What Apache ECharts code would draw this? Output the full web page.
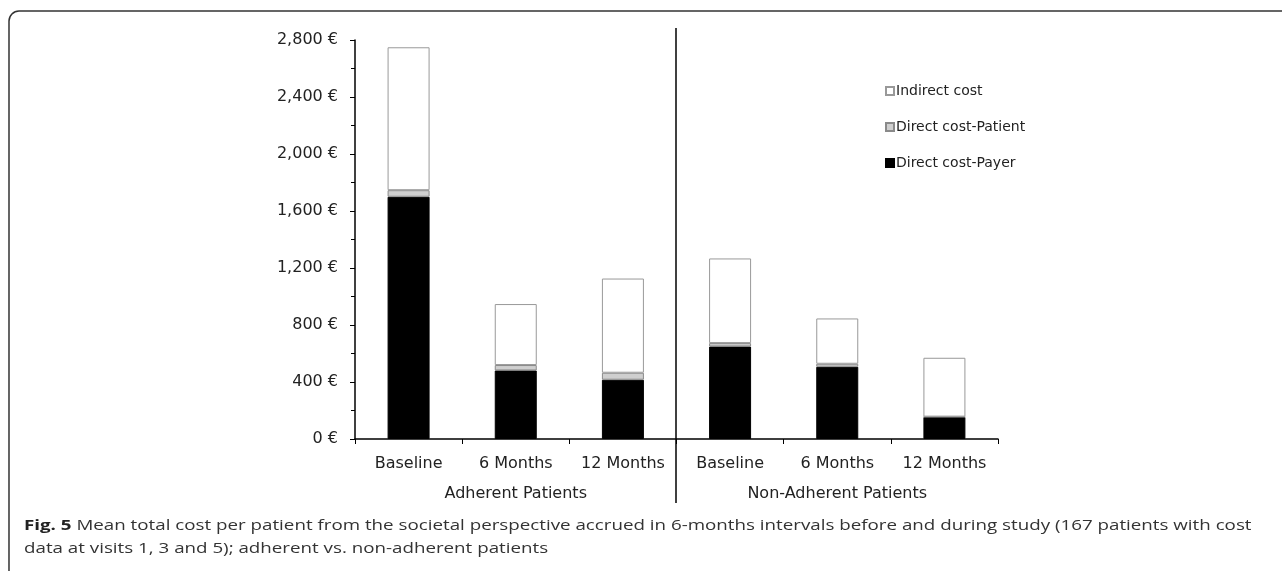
<!DOCTYPE html>
<html>
<head>
<meta charset="utf-8">
<script src="https://cdn.jsdelivr.net/npm/echarts@6/dist/echarts.min.js"></script>
<style>
  html, body { margin: 0; padding: 0; background: #fff; }
  #main { width: 1282px; height: 571px; }
</style>
</head>
<body>
<div id="main"></div>
<script>
// data (EUR per patient)
var categories = ['Baseline', '6 Months', '12 Months', 'Baseline', '6 Months', '12 Months'];
var groups = ['Adherent Patients', 'Non-Adherent Patients'];
var payer = [1700, 481, 416, 649, 507, 154];
var patient = [46, 38, 49, 24, 21, 3];
var indirect = [1003, 428, 661, 594, 318, 413];
var yTicks = [0, 400, 800, 1200, 1600, 2000, 2400, 2800];

var myChart = echarts.init(document.getElementById('main'));
var font = 'DejaVu Sans, sans-serif';

function euro(v) {
    return v.toLocaleString('en-US') + ' \u20ac';
}

var option = {
    animation: false,
    textStyle: { fontFamily: font },
    legend: {
        orient: 'vertical',
        left: 880,
        top: 79,
        itemWidth: 8,
        itemHeight: 8,
        itemGap: 22,
        icon: 'rect',
        textStyle: { fontSize: 14, color: '#222', fontFamily: font, padding: [0, 0, 0, -3] },
        data: ['Indirect cost', 'Direct cost-Patient', 'Direct cost-Payer']
    },
    grid: {
        left: 355,
        right: 284,
        top: 40,
        bottom: 132
    },
    xAxis: [
        {
            type: 'category',
            data: categories,
            axisLine: { lineStyle: { color: '#000', width: 1.5 } },
            axisTick: { show: true, length: 5, lineStyle: { color: '#000' } },
            axisLabel: { interval: 0, fontSize: 16, color: '#222', margin: 17 }
        },
        {
            type: 'category',
            data: groups,
            position: 'bottom',
            offset: 30,
            axisLine: { show: false },
            axisTick: { show: false },
            axisLabel: { interval: 0, fontSize: 16, color: '#222', margin: 17 }
        }
    ],
    yAxis: {
        type: 'value',
        min: yTicks[0],
        max: yTicks[yTicks.length - 1],
        interval: 400,
        axisLine: { show: true, lineStyle: { color: '#000', width: 1.5 } },
        axisTick: { show: true, length: 5, lineStyle: { color: '#000' } },
        minorTick: { show: true, splitNumber: 2, length: 4, lineStyle: { color: '#000' } },
        splitLine: { show: false },
        axisLabel: {
            fontSize: 16,
            color: '#222',
            margin: 17,
            formatter: function (v) { return euro(v); }
        }
    },
    series: [
        {
            name: 'Direct cost-Payer',
            type: 'bar',
            stack: 'cost',
            barWidth: 42,
            data: payer,
            itemStyle: { color: '#000', borderColor: '#000', borderWidth: 1 }
        },
        {
            name: 'Direct cost-Patient',
            type: 'bar',
            stack: 'cost',
            data: patient,
            itemStyle: { color: '#cfcfcf', borderColor: '#8a8a8a', borderWidth: 1 }
        },
        {
            name: 'Indirect cost',
            type: 'bar',
            stack: 'cost',
            data: indirect,
            itemStyle: { color: '#fff', borderColor: '#999', borderWidth: 1 }
        }
    ]
};

myChart.setOption(option);

// divider between the two patient groups, figure frame and caption
var xa = myChart.convertToPixel({ xAxisIndex: 0 }, 2);
var xb = myChart.convertToPixel({ xAxisIndex: 0 }, 3);
var divX = Math.round((xa + xb) / 2) - 1;
myChart.setOption({
    graphic: [
        {
            type: 'line',
            shape: { x1: divX, y1: 28, x2: divX, y2: 503 },
            style: { stroke: '#000', lineWidth: 1.5 }
        },
        {
            type: 'rect',
            shape: { x: 9, y: 11, width: 1320, height: 620, r: 10 },
            style: { fill: 'none', stroke: '#333', lineWidth: 1.5 }
        },
        {
            type: 'text',
            x: 24,
            y: 514,
            scaleX: 1.25,
            style: {
                text: '{b|Fig. 5} Mean total cost per patient from the societal perspective accrued in 6-months intervals before and during study (167 patients with cost\ndata at visits 1, 3 and 5); adherent vs. non-adherent patients',
                font: '15px "Open Sans", sans-serif',
                fill: '#333',
                lineHeight: 23,
                rich: {
                    b: { fontFamily: 'Open Sans, sans-serif', fontSize: 15, fontWeight: 'bold', fill: '#222', lineHeight: 23 }
                }
            }
        }
    ]
});
</script>
</body>
</html>
